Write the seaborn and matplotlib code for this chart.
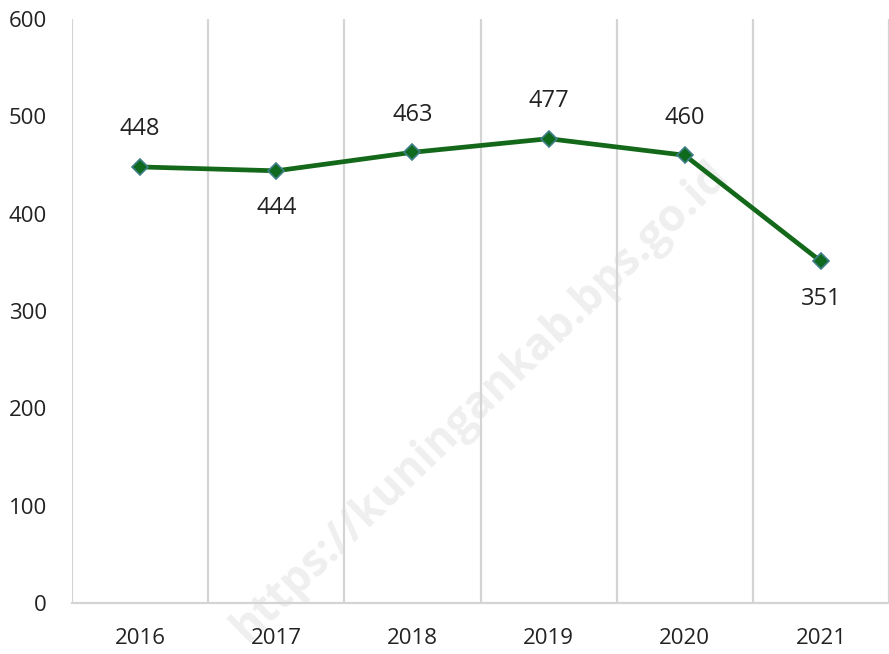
import matplotlib
matplotlib.use("Agg")
import matplotlib.pyplot as plt
import seaborn as sns
import pandas as pd

years = ["2016", "2017", "2018", "2019", "2020", "2021"]
values = [448, 444, 463, 477, 460, 351]
label_above = [True, False, True, True, True, False]
y_ticks = [0, 100, 200, 300, 400, 500, 600]

df = pd.DataFrame({"year": years, "value": values})

sns.set_style("white")
plt.rcParams["font.family"] = ["Open Sans", "DejaVu Sans"]

fig = plt.figure(figsize=(8.89, 6.54), dpi=100)
ax = fig.add_axes([0.081, 0.078, 0.919, 0.893])

# faint watermark, under the line but above the background
ax.text(0.54, 0.385, "https://kuningankab.bps.go.id", rotation=44, fontsize=32,
        fontweight="bold", color="#efefef", ha="center", va="center",
        transform=fig.transFigure, zorder=0.5, clip_on=False)

sns.lineplot(data=df, x="year", y="value", ax=ax, sort=False, color="#13681a",
             linewidth=3.4, marker="D", markersize=8, markerfacecolor="#0f6a1e",
             markeredgecolor="#3f7f86", markeredgewidth=1.2, zorder=3)

for i, (v, up) in enumerate(zip(values, label_above)):
    ax.annotate(str(v), (i, v), xytext=(0, 27 if up else -27), textcoords="offset points",
                ha="center", va="center", fontsize=17, color="#222222", zorder=4)

ax.set_xlim(-0.5, len(years) - 0.5)
ax.set_ylim(0, 600)
ax.set_yticks(y_ticks)
ax.set_yticklabels([str(t) for t in y_ticks], fontsize=16, color="#222222")
ax.set_xticks(range(len(years)))
ax.set_xticklabels(years, fontsize=16, color="#222222")
ax.tick_params(axis="x", length=0, pad=18)
ax.tick_params(axis="y", length=0, pad=18)
ax.set_xlabel("")
ax.set_ylabel("")

for b in range(len(years) + 1):
    ax.axvline(b - 0.5, color="#d4d4d4", linewidth=1.6, zorder=1)

for side in ["top", "right", "left"]:
    ax.spines[side].set_visible(False)
ax.spines["bottom"].set_color("#d4d4d4")
ax.spines["bottom"].set_linewidth(1.6)

fig.savefig("out.png", dpi=100)
